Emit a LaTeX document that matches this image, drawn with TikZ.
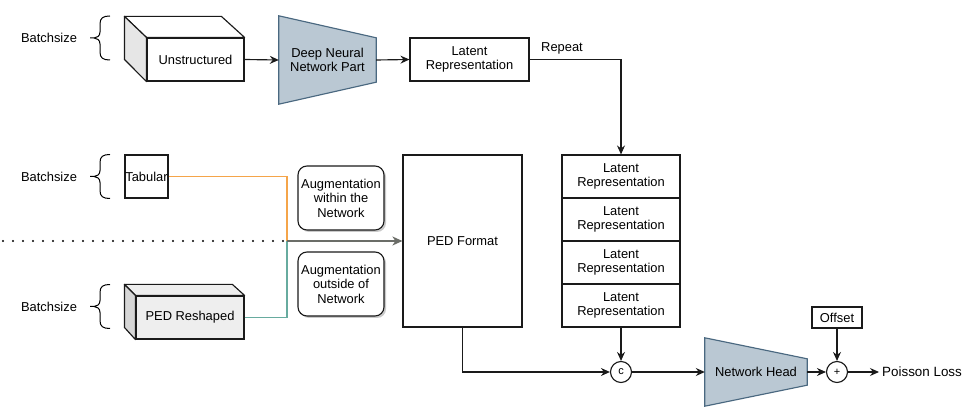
\documentclass[tikz,border=0pt]{standalone}
\usepackage{fontspec}
\setmainfont{Liberation Sans}
\usetikzlibrary{arrows.meta,shadows,calc,backgrounds}
\definecolor{dnnfill}{HTML}{BAC8D3}
\definecolor{dnnline}{HTML}{4A6880}
\definecolor{orangeln}{HTML}{F5A54A}
\definecolor{tealln}{HTML}{67AB9F}
\definecolor{grayln}{HTML}{6B6D68}
\definecolor{sidegray}{HTML}{E6E6E6}
\definecolor{pedfront}{HTML}{EEEEEE}
\definecolor{pedside}{HTML}{D6D6D6}
\definecolor{edge}{HTML}{1A1A1A}
\newcommand\txtfont{\fontsize{12.9}{14.6}\selectfont}
\begin{document}
\begin{tikzpicture}[x=1pt,y=-1pt,
  box/.style={draw=edge, line width=1.15pt, fill=white, inner sep=0pt, align=center, font=\txtfont},
  plain/.style={inner sep=0pt, align=center, font=\txtfont},
  arr/.style={draw=edge, -{Stealth[length=9pt,width=8pt,inset=3pt]}, line width=1.15pt},
  cube/.style={draw=edge, line width=1.15pt, line join=round},
  augbox/.style={box, rounded corners=9pt, minimum width=86pt, minimum height=64pt,
    drop shadow={shadow xshift=2pt, shadow yshift=-2pt, opacity=0.35, fill=black!60}},
  circ/.style={draw=edge, line width=1.15pt, fill=white, circle, minimum size=21pt, inner sep=0pt, font=\fontsize{11}{12}\selectfont},
  trap/.style={draw=dnnline, fill=dnnfill, line width=1.15pt},
  bbrace/.pic={\draw[line width=1pt] (20,-22) .. controls (13,-22) and (10,-20) .. (10,-14) -- (10,-6) .. controls (10,-2) and (7,0) .. (4,0) -- (0,0)
      (4,0) .. controls (7,0) and (10,2) .. (10,6) -- (10,14) .. controls (10,20) and (13,22) .. (20,22);}
  ]
\useasboundingbox (0,0) rectangle (977,411);

% Batchsize labels and braces
\node[plain] (b1) at (49,38) {Batchsize};
\node[plain] (b2) at (49,176.5) {Batchsize};
\node[plain] (b3) at (49,306.5) {Batchsize};
\pic at (90,38) {bbrace};
\pic at (90,176.5) {bbrace};
\pic at (90,306.5) {bbrace};

% Unstructured cube
\node[box, minimum width=97pt, minimum height=43pt] (unstr) at (195.5,59.5) {Unstructured};
\draw[cube, fill=white] (unstr.north west) -- ++(-22,-21) -- ++(97,0) -- (unstr.north east) -- cycle;
\draw[cube, fill=sidegray] (unstr.north west) -- ++(-22,-21) -- ++(0,43) -- (unstr.south west) -- cycle;

% Deep neural network part
\node[plain, minimum width=97pt, minimum height=88pt] (dnn) at (327.5,60) {Deep Neural\\Network Part};
\begin{pgfonlayer}{background}
\draw[trap] (dnn.north west) -- ($(dnn.north east)+(0,22)$) -- ($(dnn.south east)+(0,-22)$) -- (dnn.south west) -- cycle;
\end{pgfonlayer}

\node[box, minimum width=119pt, minimum height=43pt] (lat1) at (469.5,59.5) {Latent\\Representation};
\node[plain] (rep) at (562,48) {Repeat};

% Stack of latent representations
\node[box, minimum width=118pt, minimum height=43pt] (s1) at (621,176.5) {Latent\\Representation};
\node[box, minimum width=118pt, minimum height=43pt] (s2) at (621,219.5) {Latent\\Representation};
\node[box, minimum width=118pt, minimum height=43pt] (s3) at (621,262.5) {Latent\\Representation};
\node[box, minimum width=118pt, minimum height=43pt] (s4) at (621,305.5) {Latent\\Representation};

\draw[arr] (unstr.east) -- (dnn.west);
\draw[arr] (dnn.east) -- (lat1.west);
\draw[arr] (lat1.east) -| (s1.north);

% Tabular
\node[box, minimum width=43pt, minimum height=43pt] (tab) at (146.5,176.5) {Tabular};

% PED reshaped cube
\node[box, fill=pedfront, minimum width=108pt, minimum height=43pt] (pedr) at (190,317.5) {PED Reshaped};
\draw[cube, fill=pedfront] (pedr.north west) -- ++(-11,-11) -- ++(108,0) -- (pedr.north east) -- cycle;
\draw[cube, fill=pedside] (pedr.north west) -- ++(-11,-11) -- ++(0,43) -- (pedr.south west) -- cycle;

% Augmentation boxes
\node[augbox] (aug1) at (341,198) {Augmentation\\within the\\Network};
\node[augbox] (aug2) at (341,284) {Augmentation\\outside of\\Network};

% PED format
\node[box, minimum width=119pt, minimum height=172pt] (ped) at (462.5,241) {PED Format};

% merging lines
\coordinate (junc) at (287,241);
\coordinate (dots) at (3,241);
\draw[orangeln, line width=1.8pt] (tab.east) -| (junc);
\draw[tealln, line width=1.8pt] (pedr.east) -| (junc);
\draw[line width=2.2pt, line cap=round, dash pattern=on 0pt off 10pt] (dots) -- (junc);
\draw[grayln, line width=2pt, -{Stealth[length=10pt,width=9pt,inset=3pt]}] (junc) -- (ped.west);

% bottom row
\node[circ] (cc) at (621,372) {c};
\draw[arr] (s4.south) -- (cc.north);
\draw[arr] (ped.south) |- (cc.west);

\node[plain, minimum width=102pt, minimum height=68pt] (head) at (756,372) {Network Head};
\begin{pgfonlayer}{background}
\draw[trap] (head.north west) -- ($(head.north east)+(0,21)$) -- ($(head.south east)+(0,-21)$) -- (head.south west) -- cycle;
\end{pgfonlayer}
\draw[arr] (cc.east) -- (head.west);

\node[circ] (pl) at (837,372) {+};
\node[box, minimum width=50pt, minimum height=21pt] (off) at (837,317.5) {Offset};
\draw[arr] (off.south) -- (pl.north);
\draw[arr] (head.east) -- (pl.west);

\node[plain, anchor=west, inner xsep=3pt, font=\fontsize{13.4}{15}\selectfont] (loss) at (879,372) {Poisson Loss};
\draw[arr] (pl.east) -- (loss.west);
\end{tikzpicture}
\end{document}
